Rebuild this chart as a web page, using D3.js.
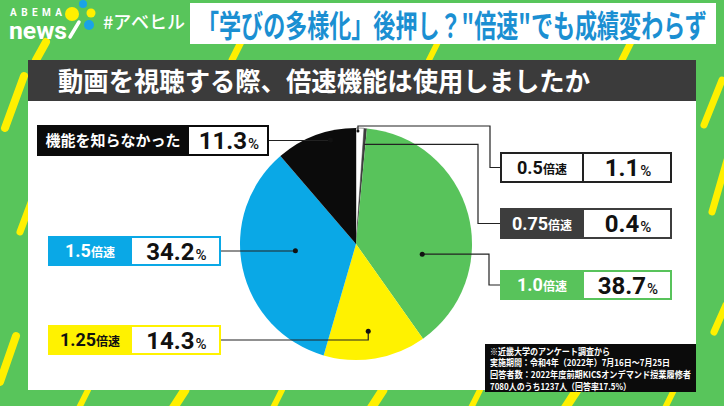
<!DOCTYPE html>
<html>
<head>
<meta charset="utf-8">
<script src="https://cdn.jsdelivr.net/npm/d3@7"></script>
<style>
  body { margin: 0; background: #58c55b; }
  svg { display: block; }
</style>
</head>
<body>
<div id="chart-area"></div>
<script>
// data
var categories = ['0.5倍速', '0.75倍速', '1.0倍速', '1.25倍速', '1.5倍速', '機能を知らなかった'];
var shares = [1.1, 0.4, 38.7, 14.3, 34.2, 11.3];
var sliceColors = ['#ffffff', '#3d3d3d', '#58c35b', '#fff200', '#0aa8e6', '#0b0b0b'];
var labelTextColors = ['#111', '#fff', '#fff', '#111', '#fff', '#fff'];
var borderColors = ['#222', '#3d3d3d', '#58c35b', '#fff200', '#0aa8e6', '#0b0b0b'];

var headline = '「学びの多様化」後押し？"倍速"でも成績変わらず';
var question = '動画を視聴する際、倍速機能は使用しましたか';
var notes = [
    '※近畿大学のアンケート調査から',
    '実施期間：令和4年（2022年）7月16日〜7月25日',
    '回答者数：2022年度前期KICSオンデマンド授業履修者',
    '7080人のうち1237人（回答率17.5%）'
];
var noteWidths = [120, 180, 201, 141];

var width = 724;
var height = 406;
var cjk = '"Noto Sans CJK JP", sans-serif';
var num = 'Roboto, "Noto Sans", sans-serif';

var svg = d3.select('#chart-area')
    .append('svg')
    .attr('width', width)
    .attr('height', height);

svg.append('rect')
    .attr('width', width)
    .attr('height', height)
    .attr('fill', '#58c55b');

// yellow slashes in the background
var stripes = [
    [36, 60, 46, 42, 8], [232, 60, 241, 42, 7], [429, 60, 438, 42, 6], [622, 60, 631, 42, 7],
    [704, 125, 722, 80, 7], [5, 128, 24, 76, 8], [20, 232, 32, 200, 7], [0, 382, 16, 336, 8],
    [712, 212, 730, 150, 7], [714, 332, 726, 305, 7],
    [78, 410, 88, 390, 6], [172, 410, 185, 390, 9], [272, 410, 282, 390, 6], [370, 410, 383, 390, 9],
    [470, 410, 480, 390, 6], [564, 410, 577, 390, 9], [664, 410, 674, 390, 6]
];
svg.append('g').selectAll('line')
    .data(stripes)
    .enter()
    .append('line')
    .attr('x1', d => d[0]).attr('y1', d => d[1])
    .attr('x2', d => d[2]).attr('y2', d => d[3])
    .attr('stroke', '#fff000')
    .attr('stroke-width', d => d[4])
    .attr('stroke-linecap', 'round');

// logo
var logo = svg.append('g');
logo.append('text')
    .attr('x', 10).attr('y', 16)
    .attr('font-family', num).attr('font-weight', 700).attr('font-size', 10)
    .attr('textLength', 52).attr('fill', '#fff')
    .text('ABEMA');
logo.append('text')
    .attr('x', 9).attr('y', 39)
    .attr('font-family', num).attr('font-weight', 700).attr('font-size', 24)
    .attr('textLength', 58).attr('lengthAdjust', 'spacingAndGlyphs').attr('fill', '#fff')
    .text('news');
logo.append('line')
    .attr('x1', 70).attr('y1', 37).attr('x2', 79).attr('y2', 22)
    .attr('stroke', '#fff').attr('stroke-width', 3.5).attr('stroke-linecap', 'round');
logo.append('circle').attr('cx', 72).attr('cy', 14).attr('r', 7).attr('fill', '#fff000');
logo.append('circle').attr('cx', 83).attr('cy', 4).attr('r', 4).attr('fill', '#1aa3e8');
logo.append('circle').attr('cx', 91).attr('cy', 13).attr('r', 4.5).attr('fill', '#fff000');
logo.append('circle').attr('cx', 89).attr('cy', 25).attr('r', 5).attr('fill', '#1aa3e8');
logo.append('text')
    .attr('x', 103).attr('y', 29)
    .attr('font-family', cjk).attr('font-weight', 500).attr('font-size', 18)
    .attr('fill', '#fff')
    .text('#アベヒル');

// headline box, text squeezed horizontally to fit like the condensed original
svg.append('rect')
    .attr('x', 190).attr('y', 3).attr('width', 526).attr('height', 41)
    .attr('fill', '#fff');
var head = svg.append('text')
    .attr('x', 0).attr('y', 0)
    .attr('font-family', cjk).attr('font-weight', 700).attr('font-size', 31)
    .attr('fill', '#1b8fd2')
    .text(headline);
var headW = head.node().getComputedTextLength();
head.attr('transform', 'translate(197,37) scale(' + (510 / headW) + ',1)');

// question bar and panel
svg.append('rect')
    .attr('x', 28).attr('y', 60).attr('width', 668).attr('height', 41)
    .attr('fill', '#3b3b3b');
svg.append('text')
    .attr('x', 58).attr('y', 91)
    .attr('font-family', cjk).attr('font-weight', 700).attr('font-size', 26)
    .attr('textLength', 532).attr('lengthAdjust', 'spacingAndGlyphs')
    .attr('fill', '#fff')
    .text(question);
svg.append('rect')
    .attr('x', 28).attr('y', 101).attr('width', 668).attr('height', 289)
    .attr('fill', '#fff');

// pie
var cx = 356, cy = 244, radius = 116;
var pie = d3.pie().sort(null).value(d => d)(shares);
var arc = d3.arc().innerRadius(0).outerRadius(radius);

var graph = svg.append('g')
    .attr('transform', 'translate(' + cx + ',' + cy + ')');

graph.selectAll('path')
    .data(pie)
    .enter()
    .append('path')
    .attr('d', arc)
    .attr('fill', (d, i) => sliceColors[i])
    .attr('stroke', (d, i) => i === 0 ? '#555' : 'none')
    .attr('stroke-width', 0.6);

// label boxes and leader lines
var boxes = [
    { x: 501, y: 153, w: 170, h: 29, split: 82 },
    { x: 501, y: 209, w: 170, h: 29, split: 82 },
    { x: 501, y: 271, w: 170, h: 28, split: 82 },
    { x: 49, y: 326, w: 171, h: 28, split: 82 },
    { x: 49, y: 237, w: 171, h: 28, split: 82 },
    { x: 38, y: 126, w: 230, h: 29, split: 150 }
];
var anchors = [
    { t: 0.25, r: 113, path: ['V', 126, 'H', 490, 'V', 167.5, 'H', 501], dot: 1.5 },
    { t: 0.5, r: 100, path: ['H', 478, 'V', 223.5, 'H', 501], dot: 0 },
    { t: 0.67, r: 67, path: ['H', 489, 'V', 285, 'H', 501], dot: 2.5 },
    { t: 0.53, r: 88, path: ['V', 340, 'H', 220], dot: 2.5 },
    { t: 0.547, r: 61, path: ['V', 251, 'H', 220], dot: 2.5 },
    { t: 0.66, r: 107, path: ['V', 140.5, 'H', 268], dot: 2.5 }
];

function anchorPoint(d, a) {
    var ang = d.startAngle + a.t * (d.endAngle - d.startAngle);
    return [cx + a.r * Math.sin(ang), cy - a.r * Math.cos(ang)];
}

pie.forEach(function (d, i) {
    var a = anchors[i];
    var p = anchorPoint(d, a);
    var path = 'M' + p[0] + ',' + p[1];
    var curX = p[0], curY = p[1];
    for (var k = 0; k < a.path.length; k += 2) {
        if (a.path[k] === 'H') curX = a.path[k + 1];
        else curY = a.path[k + 1];
        path += 'L' + curX + ',' + curY;
    }
    svg.append('path')
        .attr('d', path)
        .attr('fill', 'none')
        .attr('stroke', '#222')
        .attr('stroke-width', 1.2);
    if (a.dot > 0) {
        svg.append('circle')
            .attr('cx', p[0]).attr('cy', p[1]).attr('r', a.dot)
            .attr('fill', '#111');
    }

    var b = boxes[i];
    var g = svg.append('g');
    g.append('rect')
        .attr('x', b.x).attr('y', b.y).attr('width', b.w).attr('height', b.h)
        .attr('fill', '#fff')
        .attr('stroke', borderColors[i]).attr('stroke-width', 2);
    g.append('rect')
        .attr('x', b.x).attr('y', b.y).attr('width', b.split).attr('height', b.h)
        .attr('fill', sliceColors[i])
        .attr('stroke', borderColors[i]).attr('stroke-width', 2);

    var lx = b.x + b.split / 2;
    var ly = b.y + b.h / 2;
    var label = g.append('text')
        .attr('x', lx).attr('y', ly + 6)
        .attr('text-anchor', 'middle')
        .attr('fill', labelTextColors[i]);
    var name = categories[i];
    if (name.indexOf('倍速') > 0) {
        label.append('tspan')
            .attr('font-family', num).attr('font-weight', 700).attr('font-size', 18)
            .text(name.replace('倍速', ''));
        label.append('tspan')
            .attr('font-family', cjk).attr('font-weight', 700).attr('font-size', 12)
            .text('倍速');
    } else {
        label.attr('y', ly + 5.5)
            .attr('font-family', cjk).attr('font-weight', 700).attr('font-size', 15)
            .text(name);
    }

    var value = g.append('text')
        .attr('x', b.x + b.split + (b.w - b.split) / 2 + 1).attr('y', ly + 8.5)
        .attr('text-anchor', 'middle')
        .attr('fill', '#111');
    value.append('tspan')
        .attr('font-family', num).attr('font-weight', 700).attr('font-size', 24)
        .text(shares[i].toFixed(1));
    value.append('tspan')
        .attr('font-family', num).attr('font-weight', 500).attr('font-size', 15)
        .attr('dx', 1)
        .text('%');
});

// source note
svg.append('rect')
    .attr('x', 485).attr('y', 344).attr('width', 211).attr('height', 48)
    .attr('fill', '#0b0b0b');
svg.append('g').selectAll('text')
    .data(notes)
    .enter()
    .append('text')
    .attr('x', 490)
    .attr('y', (d, i) => 354.5 + i * 11.7)
    .attr('font-family', cjk).attr('font-weight', 700).attr('font-size', 9)
    .attr('textLength', (d, i) => noteWidths[i])
    .attr('lengthAdjust', 'spacingAndGlyphs')
    .attr('fill', '#fff')
    .text(d => d);
</script>
</body>
</html>
